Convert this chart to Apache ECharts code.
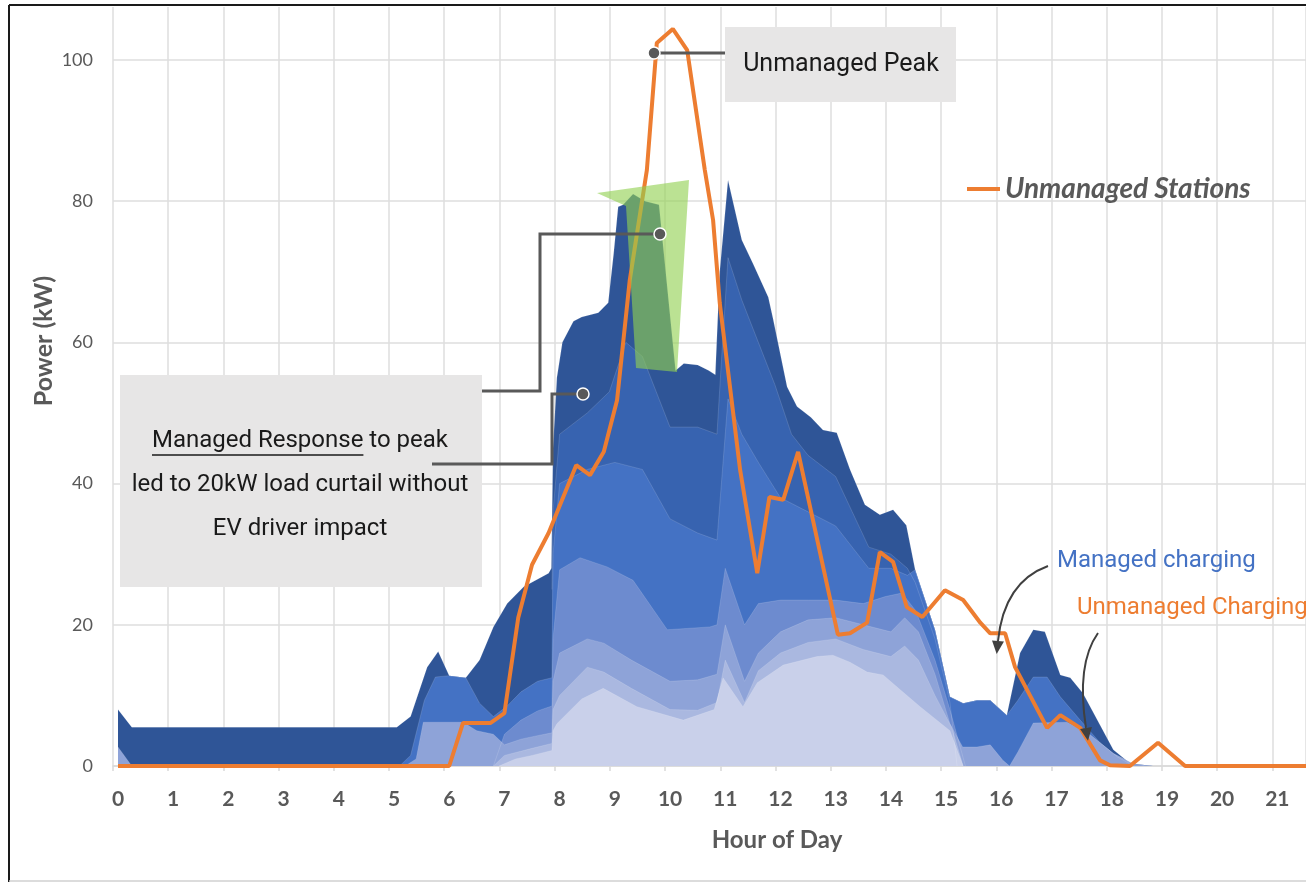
<!DOCTYPE html>
<html>
<head>
<meta charset="utf-8">
<script src="https://cdn.jsdelivr.net/npm/echarts@6/dist/echarts.min.js"></script>
<style>
  html, body { margin: 0; padding: 0; background: #fff; }
  #chart { width: 1306px; height: 883px; }
</style>
</head>
<body>
<div id="chart"></div>
<script>
// unmanaged stations, [hour, kW]
const unmanaged = [[0,0],[6.0,0],[6.25,6.1],[6.75,6.1],[7.0,7.5],[7.25,21],[7.5,28.5],[7.8,33],[8.3,42.6],[8.55,41.2],[8.8,44.5],
  [9.04,51.8],[9.27,68.8],[9.58,84.4],[9.76,102.4],[10.05,104.4],[10.31,101.4],[10.63,84.4],[10.78,77.3],[10.9,65.6],[11.27,41.9],
  [11.58,27.3],[11.8,38.1],[12.05,37.7],[12.32,44.5],[13.04,18.6],[13.26,18.8],[13.57,20.3],[13.8,30.3],[14.04,28.9],[14.29,22.5],
  [14.57,21.1],[14.98,24.9],[15.31,23.5],[15.62,20.3],[15.8,18.8],[16.07,18.8],[16.25,14],[16.83,5.4],[17.07,7.2],[17.43,5.4],
  [17.79,0.8],[17.97,0.1],[18.33,0],[18.84,3.3],[19.33,0],[21.52,0]];

const managedTotal = [[0,8],[0.25,5.5],[5.05,5.5],[5.3,7],[5.6,14],[5.8,16.2],[6.0,12.8],[6.3,12.5],[6.55,15],[6.8,19.7],[7.05,23],
  [7.35,25.4],[7.8,27.3],[7.85,28],[7.88,45],[7.95,55],[8.05,60],[8.25,63],[8.4,63.6],[8.7,64.2],[8.88,65.6],[8.98,72.7],[9.06,79.2],
  [9.15,79.5],[9.33,81],[9.55,80],[9.8,79.5],[10.1,56],[10.25,57],[10.5,56.8],[10.7,56],[10.82,55.4],[10.9,70],[11.05,83],[11.3,74.5],
  [11.5,71.2],[11.78,66.4],[11.87,63.2],[12.12,53.7],[12.3,50.9],[12.55,49.4],[12.77,47.6],[13.02,47.2],[13.26,42],[13.53,37],
  [13.8,35.6],[14.04,36.3],[14.28,34.1],[14.44,27.8],[14.8,19.3],[15.07,9.8],[15.31,8.9],[15.56,9.3],[15.8,9.3],[16.1,7.2],
  [16.34,16],[16.58,19.3],[16.79,19],[17.07,12.9],[17.25,12.5],[17.48,10.3],[18.03,2.3],[18.33,0.4],[18.75,0]];
const managedUpper = [[7.86,25],[7.88,36],[8.0,47],[8.5,50],[8.9,53],[9.2,60],[9.5,58],[10.0,48],[10.5,48],[10.85,47],[10.92,56],
  [11.05,72],[11.3,66],[11.6,60],[11.9,54],[12.2,47],[12.5,44],[13.0,41],[13.3,36],[13.6,31],[14.0,30],[14.3,28],[14.44,26],
  [14.8,18],[15.07,9],[15.2,0]];
const managedMid = [[5.1,0],[5.3,1.5],[5.55,9.3],[5.75,12.6],[6.0,12.8],[6.3,12.5],[6.55,8.9],[6.8,7],[7.05,8.5],[7.3,10.5],[7.6,12],
  [7.86,12.5],[7.88,30],[8.0,40],[8.5,42],[9.0,43],[9.5,42],[10.0,35],[10.5,33],[10.85,32],[10.95,42],[11.05,52],[11.3,47],[11.6,43],
  [12.0,38],[12.5,36],[13.0,34],[13.3,31],[13.6,28],[14.0,28],[14.3,27],[14.44,27.8],[14.8,19.3],[15.07,9.8],[15.31,8.9],[15.56,9.3],
  [15.8,9.3],[16.1,7.2],[16.3,9.3],[16.58,12.6],[16.83,12.6],[17.07,9.8],[17.43,6.5],[17.79,3.3],[18.1,1.3],[18.4,0]];
const managedLowMid = [[6.8,0],[7.0,4.5],[7.3,6.5],[7.6,7.8],[7.86,8.5],[7.88,18],[8.0,27.8],[8.37,29.5],[8.86,28.2],[9.33,26.3],
  [9.95,19.3],[10.72,19.7],[10.85,20],[11.0,28],[11.35,20],[11.6,23],[12.0,23.5],[12.5,23.5],[13.0,23.5],[13.5,23],[13.9,24],
  [14.2,24.5],[14.45,22],[14.8,15],[15.07,8],[15.35,0]];
const managedLow = [[0,2.7],[0.25,0],[5.2,0],[5.4,1],[5.53,6.2],[6.25,6.2],[6.5,5],[6.8,4.5],[7.0,3],[7.3,3.8],[7.6,4.3],[7.86,4.7],
  [7.88,12],[8.0,16],[8.5,18],[8.8,17.4],[9.3,15],[10.0,12],[10.5,12.2],[10.85,13],[11.0,20],[11.35,12],[11.6,16],[12.0,19],
  [12.5,20.7],[13.0,21],[13.5,20],[14.0,19],[14.25,21],[14.5,19],[14.8,13],[15.07,6],[15.3,2.7],[15.56,2.7],[15.8,3],[16.03,0.8],
  [16.15,0],[16.3,2],[16.58,6.1],[17.19,6.2],[17.55,4.8],[18.03,1.8],[18.4,0.3],[18.75,0]];
const managedLighter = [[6.8,0],[7.0,1.5],[7.5,2.5],[7.86,3.2],[7.88,8],[8.0,10],[8.5,14],[8.8,13.3],[9.3,11],[10.0,8],[10.5,7.9],
  [10.85,9],[11.0,15],[11.35,9],[11.6,13.5],[12.0,16],[12.5,17.5],[13.0,18],[13.5,16.5],[14.0,15.5],[14.25,17],[14.5,15],[14.8,10],
  [15.1,5.5],[15.31,0]];
const managedLightest = [[6.9,0],[7.2,1],[7.5,1.5],[7.86,2.2],[7.88,5],[7.95,6],[8.4,9.5],[8.79,11],[9.4,8.4],[10.24,6.5],[10.8,8],
  [10.96,12.5],[11.32,8.4],[11.58,11.8],[12.05,14.3],[12.66,15.5],[12.95,15.7],[13.26,14.7],[13.57,13.3],[13.86,12.9],[14.17,10.8],
  [14.53,8.4],[15.07,5],[15.31,0]];

const managedLayers = [
  { data: managedTotal, color: '#2f5597' },
  { data: managedUpper, color: '#3763b0' },
  { data: managedMid, color: '#4472c4' },
  { data: managedLowMid, color: '#6d8bcf' },
  { data: managedLow, color: '#8ea3d8' },
  { data: managedLighter, color: '#aab8e0' },
  { data: managedLightest, color: '#c9d0ea' }
];

const GRAY = '#595959';
const ORANGE = '#ed7d31';

const chart = echarts.init(document.getElementById('chart'));

// underline width for "Managed Response"
const ctx = document.createElement('canvas').getContext('2d');
ctx.font = '24px Roboto';
const fullW = ctx.measureText('Managed Response to peak').width;
const ulW = ctx.measureText('Managed Response').width;

function arrow(x1, y1, cx, cy, x2, y2) {
  let dx = x2 - cx, dy = y2 - cy;
  const len = Math.sqrt(dx * dx + dy * dy);
  dx /= len; dy /= len;
  const tip = [x2 + dx * 13, y2 + dy * 13];
  return [
    { type: 'bezierCurve', z: 60, shape: { x1, y1, cpx1: cx, cpy1: cy, x2, y2 },
      style: { stroke: '#404040', lineWidth: 2, fill: null } },
    { type: 'polygon', z: 60, shape: { points: [tip, [x2 - dy * 6, y2 + dx * 6], [x2 + dy * 6, y2 - dx * 6]] },
      style: { fill: '#404040' } }
  ];
}

function dot(x, y) {
  return { type: 'circle', z: 61, shape: { cx: x, cy: y, r: 6 }, style: { fill: GRAY, stroke: '#fff', lineWidth: 1.5 } };
}
function connector(points) {
  return { type: 'polyline', z: 60, shape: { points }, style: { stroke: GRAY, lineWidth: 3, fill: null } };
}
function label(text, x, y, opts) {
  return { type: 'text', z: 62, x, y, style: Object.assign({ text, align: 'center', verticalAlign: 'middle',
    font: '24px Roboto', fill: '#1a1a1a' }, opts || {}) };
}

const series = managedLayers.map((l, i) => ({
  name: 'managed' + i,
  type: 'line',
  xAxisIndex: 0,
  data: l.data,
  symbol: 'none',
  silent: true,
  z: 2,
  lineStyle: { width: 0.8, color: 'rgba(255,255,255,0.18)' },
  areaStyle: { color: l.color, opacity: 1 }
}));
series.push({
  name: 'Unmanaged Stations',
  type: 'line',
  xAxisIndex: 0,
  data: unmanaged,
  symbol: 'none',
  z: 3,
  itemStyle: { color: ORANGE },
  lineStyle: { color: ORANGE, width: 4 }
});

const option = {
  animation: false,
  backgroundColor: '#fff',
  grid: { left: 113, right: 0, top: 7, bottom: 117, containLabel: false, outerBoundsMode: 'none' },
  legend: {
    data: ['Unmanaged Stations'],
    left: 962, top: 170,
    icon: 'rect', itemWidth: 33, itemHeight: 4,
    selectedMode: false,
    textStyle: { fontFamily: 'Lato', fontStyle: 'italic', fontWeight: 'bold', fontSize: 28, color: GRAY }
  },
  xAxis: [
    // data axis: hour h sits under its label, half a slot right of the grid line
    { type: 'value', min: -0.0906, max: 21.52, show: false, position: 'top' },
    {
      type: 'value', min: 0, max: 21.61, interval: 1, position: 'bottom',
      axisLine: { show: true, onZero: false, lineStyle: { color: '#d9d9d9', width: 1.5 } },
      axisTick: { show: true, length: 5, lineStyle: { color: '#d9d9d9', width: 1.5 } },
      axisLabel: { color: GRAY, fontSize: 21, fontWeight: 'bold', fontFamily: 'Lato', margin: 23,
        padding: [0, 0, 0, 10], showMaxLabel: false },
      splitLine: { show: true, lineStyle: { color: '#dedede', width: 1.5 } }
    }
  ],
  yAxis: {
    type: 'value', min: 0, max: 107.5, interval: 20,
    axisLine: { show: false }, axisTick: { show: false },
    axisLabel: { color: GRAY, fontSize: 18, fontFamily: 'Lato', margin: 20, showMaxLabel: false },
    splitLine: { show: true, showMaxLine: false, lineStyle: { color: '#dedede', width: 1.5 } }
  },
  series,
  graphic: [
    // frame
    { type: 'line', z: 100, shape: { x1: 9, y1: 5, x2: 1306, y2: 5 }, style: { stroke: '#1a1a1a', lineWidth: 2 } },
    { type: 'line', z: 100, shape: { x1: 9, y1: 5, x2: 9, y2: 882 }, style: { stroke: '#1a1a1a', lineWidth: 2 } },
    { type: 'line', z: 100, shape: { x1: 9, y1: 881, x2: 1306, y2: 881 }, style: { stroke: '#d0d0d0', lineWidth: 1.5 } },
    // curtailed peak wedge
    { type: 'polygon', z: 50, shape: { points: [[597, 193], [689, 180], [677, 372], [636, 368], [626, 206]] },
      style: { fill: '#92d050', opacity: 0.62 } },
    // boxes
    { type: 'rect', z: 55, shape: { x: 725, y: 27, width: 231, height: 75 }, style: { fill: '#e7e6e6' } },
    { type: 'rect', z: 55, shape: { x: 120, y: 375, width: 362, height: 212 }, style: { fill: '#e7e6e6' } },
    label('Unmanaged Peak', 841, 65, { font: '25px Roboto' }),
    label('Managed Response to peak', 300, 441),
    { type: 'line', z: 62, shape: { x1: 300 - fullW / 2, y1: 455, x2: 300 - fullW / 2 + ulW, y2: 455 },
      style: { stroke: '#1a1a1a', lineWidth: 1.5 } },
    label('led to 20kW load curtail without', 300, 485),
    label('EV driver impact', 300, 529),
    // connectors
    connector([[725, 53], [654, 53]]), dot(654, 53),
    connector([[482, 391], [540, 391], [540, 234], [660, 234]]), dot(660, 234),
    connector([[432, 464], [552, 464], [552, 394], [583, 394]]), dot(583, 394),
    // series call-outs
    label('Managed charging', 1057, 561, { align: 'left', fill: '#4472c4' }),
    label('Unmanaged Charging', 1077, 608, { align: 'left', fill: ORANGE }),
    ...arrow(1048, 566, 1004, 582, 998, 641),
    ...arrow(1098, 633, 1076, 664, 1086, 728),
    // axis titles
    label('Hour of Day', 777, 840, { font: 'bold 24px Lato', fill: GRAY }),
    { type: 'text', z: 62, x: 44, y: 341, rotation: Math.PI / 2,
      style: { text: 'Power (kW)', align: 'center', verticalAlign: 'middle', font: 'bold 25px Lato', fill: GRAY } }
  ]
};

chart.setOption(option);
</script>
</body>
</html>
